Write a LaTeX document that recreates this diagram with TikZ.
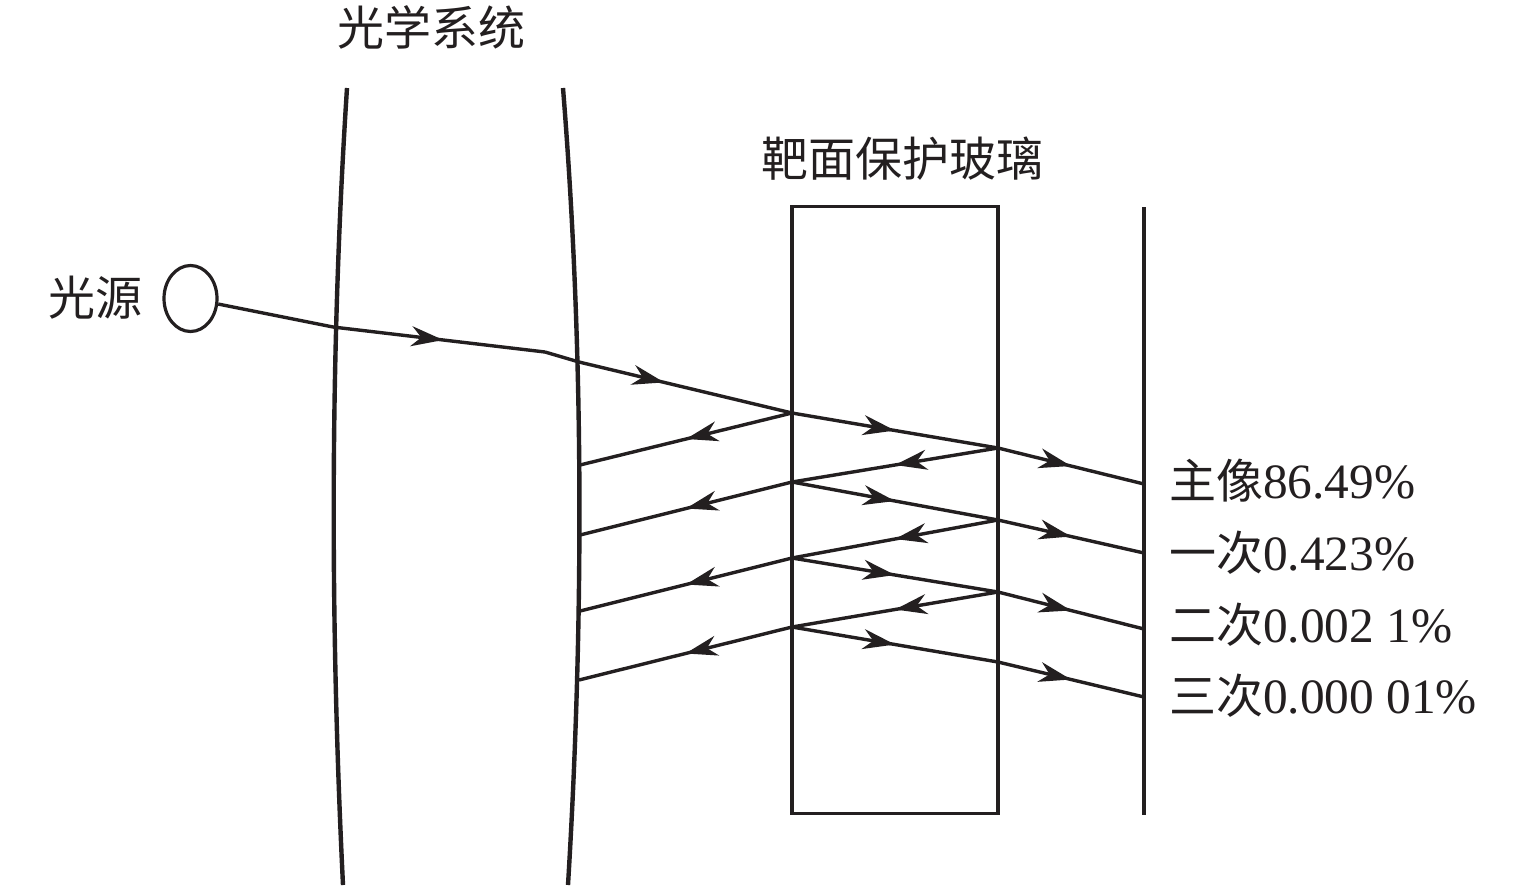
\documentclass[tikz,border=0pt]{standalone}
\usepackage{fontspec}
\setmainfont{Liberation Serif}[Scale=1.05]
\newfontfamily\cjk{Noto Sans CJK SC}
\usetikzlibrary{arrows.meta,decorations.markings,shapes.geometric}
\definecolor{ink}{HTML}{231F20}
\tikzset{
  ray/.style={draw=ink,line width=3.4pt},
  midarrow/.style={ray,postaction={decorate},decoration={markings,
    mark=at position #1 with {\arrow[ink]{Stealth[length=32pt,width=20pt,inset=10pt]}}}},
  midarrow/.default=0.5,
  lens/.style={draw=ink,line width=4.4pt},
  lbl/.style={inner sep=0pt,text=ink,font=\fontsize{47}{50}\selectfont},
}
\begin{document}
\begin{tikzpicture}[x=1pt,y=-1pt]
\useasboundingbox[fill=white] (0,0) rectangle (1535,887);
% optical system (lens)
\draw[lens] (347,88) .. controls (330,350) and (330,620) .. (343,885);
\draw[lens] (563,88) .. controls (584,350) and (584,620) .. (568,885);
% target protective glass
\node[draw=ink,line width=3.6pt,minimum width=206pt,minimum height=607pt,inner sep=0pt] (glass) at (895,510) {};
% image plane
\coordinate (ipt) at (1144,207);
\coordinate (ipb) at (1144,815);
\draw[draw=ink,line width=3.2pt] (ipt) -- (ipb);
% light source
\node[ellipse,draw=ink,line width=3.2pt,minimum width=53pt,minimum height=66pt,inner sep=0pt] (src) at (190.5,298.5) {};
% points
\coordinate (P1) at (333,327);
\coordinate (P2) at (545,352);
\coordinate (P3) at (579,362);
\coordinate (A1) at (792,413);
\coordinate (A2) at (792,482);
\coordinate (A3) at (792,558);
\coordinate (A4) at (792,627);
\coordinate (B1) at (998,448);
\coordinate (B2) at (998,520);
\coordinate (B3) at (998,592);
\coordinate (B4) at (998,662);
\coordinate (L1) at (580,465);
\coordinate (L2) at (580,535);
\coordinate (L3) at (580,611);
\coordinate (L4) at (579,680);
\coordinate (I1) at (1144,484);
\coordinate (I2) at (1144,553);
\coordinate (I3) at (1144,629);
\coordinate (I4) at (1144,697);
% incoming ray
\draw[ray] (src) -- (P1);
\draw[midarrow=0.52] (P1) -- (P2);
\draw[ray] (P2) -- (P3);
\draw[midarrow=0.4] (P3) -- (A1);
% forward rays in glass
\draw[midarrow] (A1) -- (B1);
\draw[midarrow] (A2) -- (B2);
\draw[midarrow] (A3) -- (B3);
\draw[midarrow] (A4) -- (B4);
% reflected rays in glass
\draw[midarrow] (B1) -- (A2);
\draw[midarrow] (B2) -- (A3);
\draw[midarrow] (B3) -- (A4);
% reflected rays back to lens
\draw[midarrow] (A1) -- (L1);
\draw[midarrow] (A2) -- (L2);
\draw[midarrow] (A3) -- (L3);
\draw[midarrow] (A4) -- (L4);
% rays to image plane
\draw[midarrow] (B1) -- (I1);
\draw[midarrow] (B2) -- (I2);
\draw[midarrow] (B3) -- (I3);
\draw[midarrow] (B4) -- (I4);
% labels
\node[lbl] (tsys) at (431,27) {\cjk 光学系统};
\node[lbl] (tglass) at (902,159) {\cjk 靶面保护玻璃};
\node[lbl] (tsrc) at (95,298) {\cjk 光源};
\node[lbl,anchor=west] (t0) at (1169,481) {{\cjk 主像}86.49\%};
\node[lbl,anchor=west] (t1) at (1169,553) {{\cjk 一次}0.423\%};
\node[lbl,anchor=west] (t2) at (1169,625) {{\cjk 二次}0.002 1\%};
\node[lbl,anchor=west] (t3) at (1169,696) {{\cjk 三次}0.000 01\%};
\end{tikzpicture}
\end{document}
